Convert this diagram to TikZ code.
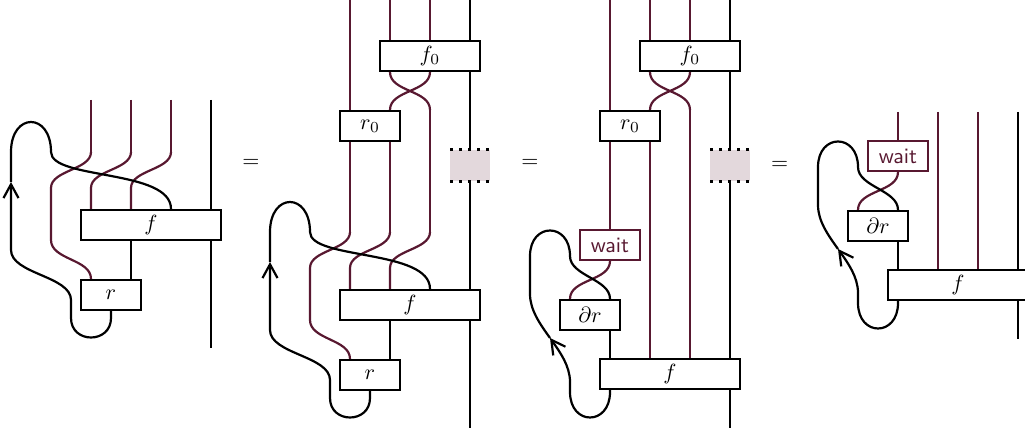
\documentclass[tikz,border=0pt]{standalone}
\usepackage{amsmath}
\usetikzlibrary{
  arrows.meta,
}
\definecolor{wire red}{RGB}{88,24,48}

\begin{document}
\begin{tikzpicture}[
  x=6.4mm,
  y=6.4mm,
  wire/.style={
    line width=1pt,
  },
  red wire/.style={
    wire,
    draw=wire red,
  },
  box/.style={
    draw,
    line width=1pt,
    fill=white,
    inner sep=0pt,
    minimum height=4.8mm,
  },
  big box/.style={
    box,
    minimum width=22.4mm,
  },
  mid box/.style={
    box,
    minimum width=16mm,
  },
  small box/.style={
    box,
    minimum width=9.6mm,
  },
  wait box/.style={
    small box,
    draw=wire red,
    text=wire red,
    font={\sffamily},
  },
  gap box/.style={
    fill=wire red!17,
    inner sep=0pt,
    minimum width=6.25mm,
    minimum height=5mm,
  },
  gap dots/.style={
    line width=1.2pt,
    dash pattern=on 1.2pt off 2.9pt,
  },
  arrow/.style={
    wire,
    -{Straight Barb[length=2.2mm,width=2.4mm]},
  },
]
  \useasboundingbox (0,0) rectangle (25.625,10.8);

  \node (eq-1) at (6.275,6.725) {$=$};
  \node (eq-2) at (13.25,6.725) {$=$};
  \node (eq-3) at (19.49,6.675) {$=$};

  %%%%%%%%%%%%%%%%%%%% f, r and the loop %%%%%%%%%%%%%%%%%%%%

  \foreach \p/\dx/\dy/\ytop in {1/2.275/2/6.3,2/8.75/0/10.8} {
    \tikzset{shift={(\dx,\dy)}}

    \foreach \i in {0,...,3} {
      \coordinate (top-\p-\i) at (\i,\ytop);
      \coordinate (s-\p-\i) at (\i,5);
    }
    \coordinate (bot-\p) at (3,0.1);
    \coordinate (arr-\p) at (-2,4.25);

    \node[big box] (f-\p) at (1.5,3.175) {$f$};
    \node[small box] (r-\p) at (0.5,1.425) {$r$};

    \draw[red wire] (s-\p-0) .. controls +(0,-0.45) and +(0,0.45) .. (-1,4.1)
      -- (-1,2.8) .. controls +(0,-0.5) and +(0,0.5) .. (s-\p-0 |- r-\p.north);
    \draw[red wire] (s-\p-1) .. controls +(0,-0.45) and +(0,0.45) .. (0,4.1)
      -- (s-\p-0 |- f-\p.north);
    \draw[red wire] (s-\p-2) .. controls +(0,-0.45) and +(0,0.45) .. (1,4.1)
      -- (s-\p-1 |- f-\p.north);
    \draw[wire] (s-\p-1 |- f-\p.south) -- (s-\p-1 |- r-\p.north);
    \draw[wire] (top-\p-3 |- f-\p.south) -- (bot-\p);

    % loop
    \draw[arrow] (r-\p.south) -- (0.5,0.85)
      .. controls +(0,-0.65) and +(0,-0.65) .. (-0.5,0.85) -- (-0.5,1.3)
      .. controls +(0,0.6) and +(0,-0.6) .. (-2,2.55) -- (arr-\p);
    \draw[wire] (arr-\p) -- (-2,5)
      .. controls +(0,1) and +(0,1) .. (-1,5)
      .. controls +(0,-0.7) and +(0,1) .. (s-\p-2 |- f-\p.north);
  }

  %%%%%%%%%%%%%%%%%%%% wait, dr, f and the loop %%%%%%%%%%%%%%%%%%%%

  \foreach \p/\dx/\dy/\ytop in {3/15.25/0/10.8,4/22.45/2.225/5.775} {
    \tikzset{shift={(\dx,\dy)}}

    \foreach \i in {0,...,3} {
      \coordinate (top-\p-\i) at (\i,\ytop);
    }
    \coordinate (bot-\p) at (3,0.1);
    \coordinate (arr-\p) at (-1.5,2.35);

    \node[wait box] (wait-\p) at (0,4.675) {wait};
    \node[small box] (dr-\p) at (-0.5,2.925) {$\partial r$};
    \node[big box] (f-\p) at (1.5,1.45) {$f$};

    \draw[red wire] (wait-\p.south)
      .. controls +(0,-0.5) and +(0,0.5) .. ([xshift=-3.2mm]dr-\p.north);
    \draw[wire] (top-\p-0 |- dr-\p.south) -- (top-\p-0 |- f-\p.north);
    \draw[wire] (top-\p-3 |- f-\p.south) -- (bot-\p);

    % loop
    \draw[arrow] (top-\p-0 |- f-\p.south) -- (0,1)
      .. controls +(0,-0.85) and +(0,-0.85) .. (-1,1) -- (-1,1.25)
      .. controls (-1,1.65) and (-1.25,2) .. (arr-\p);
    \draw[wire] (arr-\p) .. controls (-1.75,2.7) and (-2,3.05) .. (-2,3.45)
      -- (-2,4.4) .. controls +(0,0.85) and +(0,0.85) .. (-1,4.4)
      .. controls +(0,-0.5) and +(0,0.5) .. ([xshift=3.2mm]dr-\p.north);
  }

  %%%%%%%%%%%%%%%%%%%% f0, r0 and the gap %%%%%%%%%%%%%%%%%%%%

  \foreach \p/\dx in {2/8.75,3/15.25} {
    \tikzset{shift={(\dx,0)}}

    \node[mid box] (fzero-\p) at (2,9.4) {$f_0$};
    \node[small box] (rzero-\p) at (0.5,7.65) {$r_0$};
    \node[gap box] (gap-\p) at (3,6.66) {};
    \draw[gap dots] (gap-\p.north west) -- (gap-\p.north east);
    \draw[gap dots] (gap-\p.south west) -- (gap-\p.south east);

    \draw[red wire] (top-\p-0) -- (top-\p-0 |- rzero-\p.north);
    \foreach \i in {1,2} {
      \draw[red wire] (top-\p-\i) -- (top-\p-\i |- fzero-\p.north);
    }
    \draw[red wire] (top-\p-1 |- fzero-\p.south)
      .. controls +(0,-0.5) and +(0,0.5) .. (top-\p-2 |- rzero-\p.north);
    \draw[red wire] (top-\p-2 |- fzero-\p.south)
      .. controls +(0,-0.5) and +(0,0.5) .. (top-\p-1 |- rzero-\p.north);
    \draw[wire] (top-\p-3) -- (top-\p-3 |- fzero-\p.north);
    \draw[wire] (top-\p-3 |- fzero-\p.south) -- (gap-\p.north);
  }

  %%%%%%%%%%%%%%%%%%%% Remaining wires %%%%%%%%%%%%%%%%%%%%

  \foreach \i in {0,1,2} {
    \draw[red wire] (top-1-\i) -- (s-1-\i);
  }
  \draw[wire] (top-1-3) -- (top-1-3 |- f-1.north);

  \draw[red wire] (top-2-0 |- rzero-2.south) -- (s-2-0);
  \draw[red wire] (top-2-1 |- rzero-2.south) -- (s-2-1);
  \draw[red wire] (top-2-2 |- rzero-2.north) -- (s-2-2);
  \draw[wire] (gap-2.south) -- (top-2-3 |- f-2.north);

  \draw[red wire] (top-3-0 |- rzero-3.south) -- (wait-3.north);
  \draw[red wire] (top-3-1 |- rzero-3.south) -- (top-3-1 |- f-3.north);
  \draw[red wire] (top-3-2 |- rzero-3.north) -- (top-3-2 |- f-3.north);
  \draw[wire] (gap-3.south) -- (top-3-3 |- f-3.north);

  \draw[red wire] (top-4-0) -- (wait-4.north);
  \foreach \i in {1,2} {
    \draw[red wire] (top-4-\i) -- (top-4-\i |- f-4.north);
  }
  \draw[wire] (top-4-3) -- (top-4-3 |- f-4.north);
\end{tikzpicture}
\end{document}
